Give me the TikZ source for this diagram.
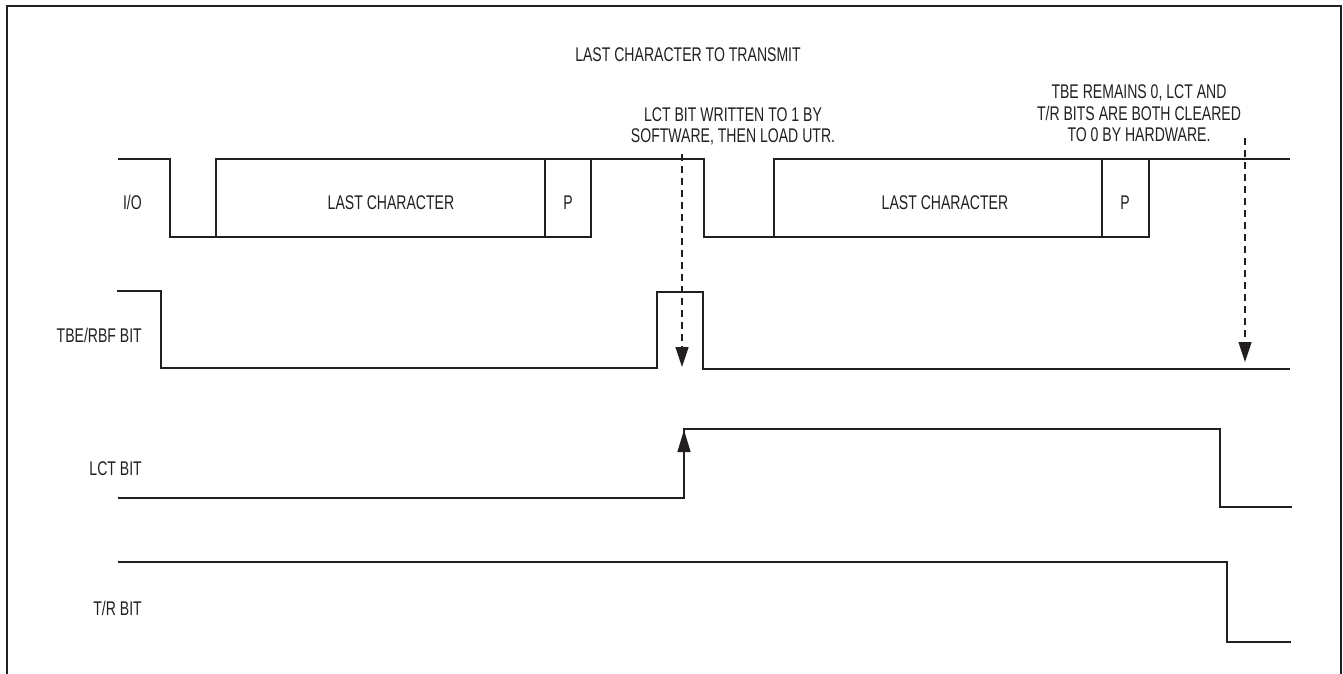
\documentclass[tikz,border=0pt]{standalone}
\usepackage{fontspec}
\setmainfont{Liberation Sans}[FakeStretch=0.71]
\usetikzlibrary{arrows.meta}
\definecolor{ink}{RGB}{35,31,32}
\begin{document}
\begin{tikzpicture}[x=1pt,y=-1pt,
  sig/.style={draw=ink,line width=1.4pt,line join=miter},
  frame/.style={draw=ink,line width=2.2pt},
  dashedarrow/.style={draw=ink,line width=1.3pt,dash pattern=on 7pt off 5pt,-{Triangle[length=20pt,width=13pt]}},
  solidarrow/.style={draw=ink,line width=1.3pt,-{Triangle[length=22pt,width=13pt]}},
  txt/.style={text=ink,inner sep=0pt,font=\fontsize{19.8}{21.5}\selectfont},
  lbl/.style={txt,anchor=base east},
  note/.style={txt,align=center,anchor=south,text depth=0pt}]
\useasboundingbox (0,0) rectangle (1343,674);
% frame
\draw[frame] (7,690) -- (7,6) -- (1341,6) -- (1341,690);
% title and notes
\node[txt,anchor=base] (title) at (688,62) {LAST CHARACTER TO TRANSMIT};
\node[note] (note1) at (733,143) {LCT BIT WRITTEN TO 1 BY\\SOFTWARE, THEN LOAD UTR.};
\node[note] (note2) at (1139,142) {TBE REMAINS 0, LCT AND\\T/R BITS ARE BOTH CLEARED\\TO 0 BY HARDWARE.};
% row labels
\node[lbl] (lio) at (142,209) {I/O};
\node[lbl] (ltbe) at (142,342) {TBE/RBF BIT};
\node[lbl] (llct) at (142,475) {LCT BIT};
\node[lbl] (ltr) at (142,615) {T/R BIT};
% I/O signal
\draw[sig] (118,159) -- (170,159) -- (170,237) -- (591,237) -- (591,159) -- (704,159) -- (704,237) -- (1149,237) -- (1149,159);
\draw[sig] (216,237) -- (216,159) -- (591,159);
\draw[sig] (545,159) -- (545,237);
\draw[sig] (774,237) -- (774,159) -- (1290,159);
\draw[sig] (1102,159) -- (1102,237);
\node[txt,anchor=base] (c1) at (391,209) {LAST CHARACTER};
\node[txt,anchor=base] (p1) at (568,209) {P};
\node[txt,anchor=base] (c2) at (945,209) {LAST CHARACTER};
\node[txt,anchor=base] (p2) at (1125,209) {P};
% TBE/RBF signal
\draw[sig] (117,291) -- (161,291) -- (161,368) -- (657,368) -- (657,292) -- (703,292) -- (703,369) -- (1290,369);
% LCT signal
\draw[sig] (118,498) -- (684,498) -- (684,429) -- (1220,429) -- (1220,507) -- (1292,507);
% T/R signal
\draw[sig] (118,562) -- (1227,562) -- (1227,642) -- (1291,642);
% arrows
\coordinate (d1s) at (682,154);
\coordinate (d1e) at (682,367);
\coordinate (d2s) at (1245,138);
\coordinate (d2e) at (1245,362);
\coordinate (a1s) at (684,472);
\coordinate (a1e) at (684,430);
\draw[dashedarrow] (d1s) -- (d1e);
\draw[dashedarrow] (d2s) -- (d2e);
\draw[solidarrow] (a1s) -- (a1e);
\end{tikzpicture}
\end{document}
